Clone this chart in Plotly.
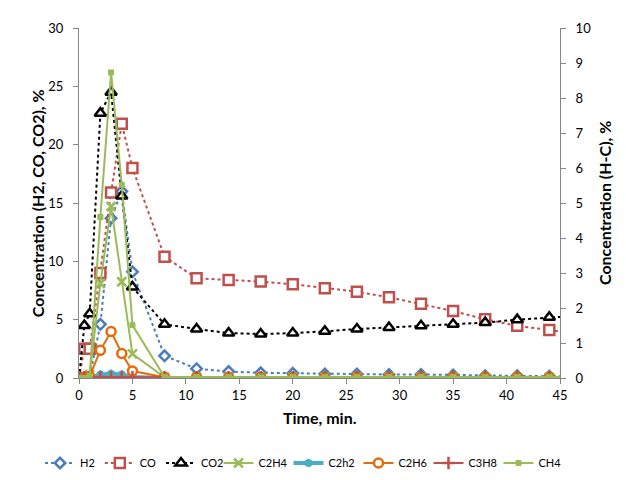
import plotly.graph_objects as go

# time, min.
time_min = [0, 0.5, 1, 2, 3, 4, 5, 8, 11, 14, 17, 20, 23, 26, 29, 32, 35, 38, 41, 44, 47]

# left axis series, %
h2 = [0, 0, 0.1, 4.6, 13.7, 16.0, 9.1, 1.9, 0.8, 0.55, 0.45, 0.4, 0.35, 0.35, 0.3, 0.3, 0.25, 0.2, 0.2, 0.15, 0.15]
co = [0, 2.5, 2.5, 9.0, 15.9, 21.8, 18.0, 10.4, 8.55, 8.4, 8.27, 8.04, 7.7, 7.4, 6.92, 6.36, 5.74, 5.03, 4.47, 4.11, 3.75]
co2 = [0, 4.5, 5.5, 22.7, 24.5, 15.6, 7.8, 4.6, 4.2, 3.85, 3.77, 3.85, 4.0, 4.2, 4.33, 4.47, 4.6, 4.75, 5.0, 5.2, 5.35]

# right axis series (H-C), %
c2h4 = [0, 0, 0.1, 2.7, 4.9, 2.75, 0.69, 0.02, 0.02, 0.02, 0.02, 0.02, 0.02, 0.02, 0.02, 0.02, 0.02, 0.02, 0.02, 0.02, 0.02]
c2h2 = [0, 0, 0, 0.1, 0.12, 0.1, 0.03, 0, 0, 0, 0, 0, 0, 0, 0, 0, 0, 0, 0, 0, 0]
c2h6 = [0, 0, 0.05, 0.79, 1.33, 0.7, 0.2, 0.02, 0.02, 0.02, 0.02, 0.02, 0.02, 0.02, 0.02, 0.02, 0.02, 0.02, 0.02, 0.02, 0.02]
c3h8 = [0.02, 0.02, 0.02, 0.02, 0.02, 0.02, 0.02, 0.02, 0.02, 0.02, 0.02, 0.02, 0.02, 0.02, 0.02, 0.02, 0.02, 0.02, 0.02, 0.02, 0.02]
ch4 = [0, 0, 0.05, 4.6, 8.73, 5.52, 1.51, 0.03, 0.03, 0.03, 0.03, 0.03, 0.03, 0.03, 0.03, 0.03, 0.03, 0.03, 0.03, 0.03, 0.03]

FONT = "Lato"
AXIS_GRAY = "#868686"


def main():
    fig = go.Figure()

    left = [
        ("H2", h2, "#4A7EBB", "diamond", 8),
        ("CO", co, "#C0504D", "square", 10),
        ("CO2", co2, "black", "triangle-up", 10),
    ]
    for name, vals, color, sym, size in left:
        fig.add_trace(
            go.Scatter(
                x=time_min, y=vals, name=name, mode="lines+markers",
                line=dict(color=color, width=2, dash="dot"),
                marker=dict(symbol=sym, size=size, color="white",
                            line=dict(color=color, width=2.5)),
                legend="legend",
            )
        )

    # legend is split in two parts so one row fits the page width
    right = [
        ("C2H4", c2h4, "#9BBB59", "x-thin", 9, 2, "white", 2.5),
        ("C2h2", c2h2, "#4BACC6", "asterisk", 7, 4, "white", 2.5),
        ("C2H6", c2h6, "#E46C0A", "circle", 9, 2, "white", 2.5),
        ("C3H8", c3h8, "#C0504D", "cross-thin", 9, 2, "white", 2.5),
        ("CH4", ch4, "#9BBB59", "square", 5, 2, "#9BBB59", 1),
    ]
    for name, vals, color, sym, size, lw, fill, mlw in right:
        fig.add_trace(
            go.Scatter(
                x=time_min, y=vals, name=name, mode="lines+markers", yaxis="y2",
                line=dict(color=color, width=lw),
                marker=dict(symbol=sym, size=size, color=fill,
                            line=dict(color=color, width=mlw)),
                legend="legend2",
            )
        )

    axis_common = dict(
        showgrid=False, zeroline=False, showline=True, linecolor=AXIS_GRAY,
        ticks="outside", ticklen=5, tickcolor=AXIS_GRAY,
        tickfont=dict(family=FONT, size=13, color="black"),
    )
    legend_common = dict(
        orientation="h", xanchor="left", yref="container", y=0.036,
        yanchor="middle", itemwidth=30, font=dict(size=11), tracegroupgap=0,
        bgcolor="rgba(0,0,0,0)",
    )

    # the page body adds an 8px offset, so the figure is 8px smaller
    fig.update_layout(
        width=618, height=472,
        margin=dict(l=71, r=66, t=15, b=102),
        paper_bgcolor="white", plot_bgcolor="white",
        font=dict(family=FONT, size=12, color="black"),
        xaxis=dict(range=[0, 45], dtick=5, **axis_common),
        yaxis=dict(range=[0, 30], dtick=5, ticklabelstandoff=7, **axis_common),
        yaxis2=dict(range=[0, 10], dtick=1, overlaying="y", side="right",
                    ticklabelstandoff=7, **axis_common),
        showlegend=True,
        legend=dict(x=-0.081, **legend_common),
        legend2=dict(x=0.29, entrywidth=25, entrywidthmode="pixels", **legend_common),
        annotations=[
            dict(text="<b>Concentration (H2, CO, CO2), %</b>", xref="paper", yref="paper",
                 x=-0.087, y=0.5, xanchor="center", yanchor="middle",
                 textangle=-90, showarrow=False, font=dict(size=16)),
            dict(text="<b>Concentration (H-C), %</b>", xref="paper", yref="paper",
                 x=1.0915, y=0.5, xanchor="center", yanchor="middle",
                 textangle=-90, showarrow=False, font=dict(size=16)),
            dict(text="<b>Time, min.</b>", xref="paper", yref="paper",
                 x=0.5, y=-0.113, xanchor="center", yanchor="middle",
                 showarrow=False, font=dict(size=16)),
        ],
    )

    fig.write_html("out.html")


if __name__ == "__main__":
    main()
